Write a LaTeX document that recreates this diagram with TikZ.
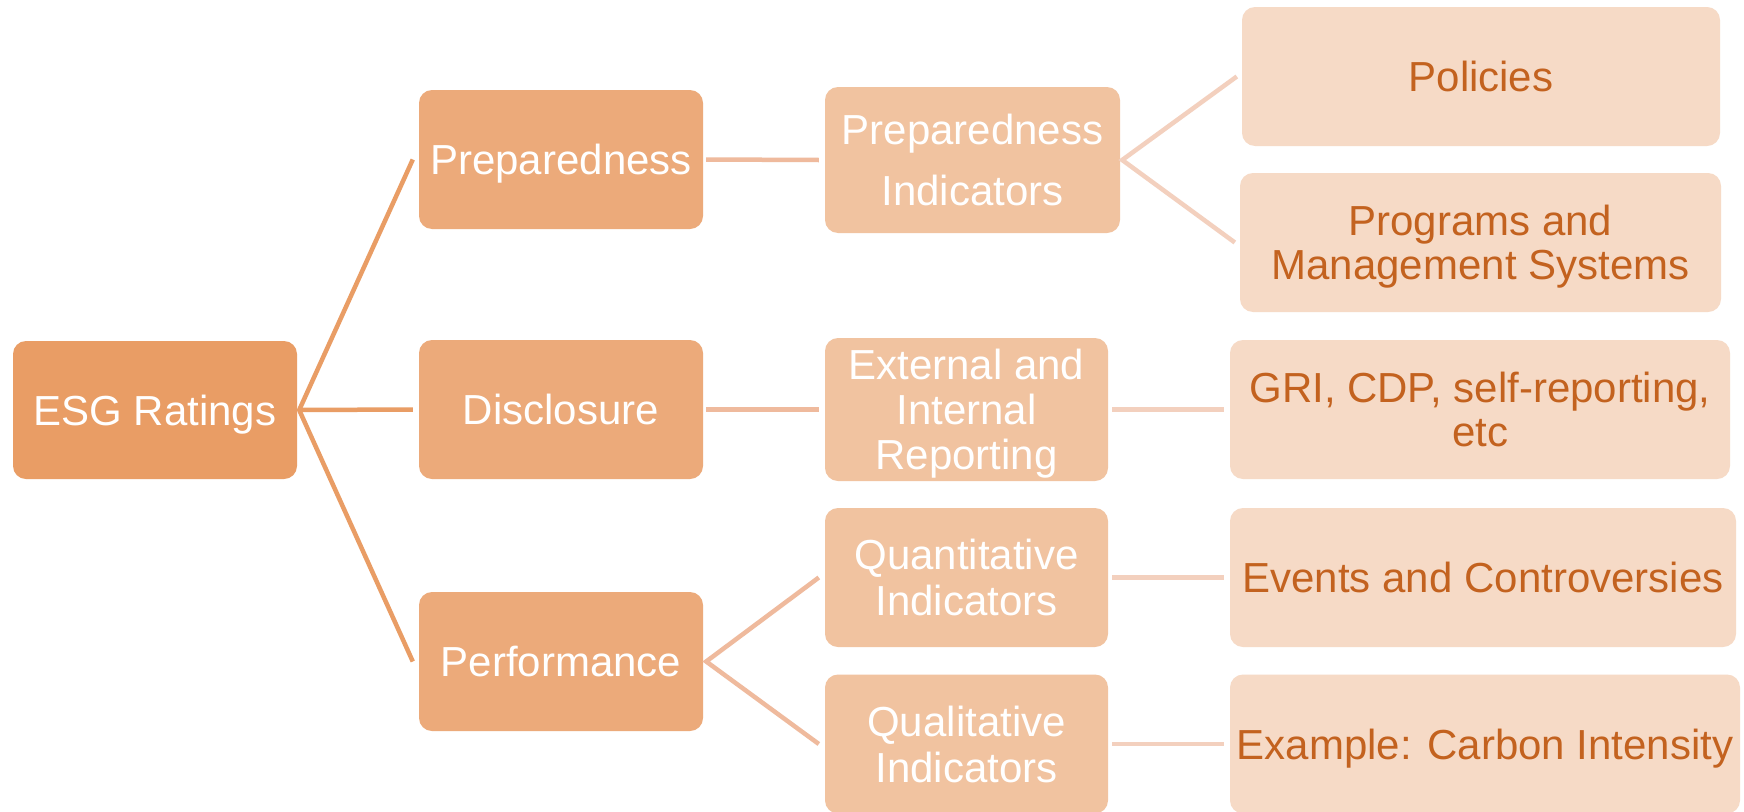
\documentclass[tikz,border=0pt]{standalone}
\usepackage{fontspec}
\setmainfont{Liberation Sans}
\newcommand{\capl}[1]{\raisebox{0pt}[30pt][0pt]{#1}}
\definecolor{c1fill}{HTML}{E99D65}
\definecolor{c2fill}{HTML}{ECAA7A}
\definecolor{c3fill}{HTML}{F1C3A0}
\definecolor{c4fill}{HTML}{F6DAC6}
\definecolor{c4text}{HTML}{C3621F}
\definecolor{l1col}{HTML}{E99D65}
\definecolor{l2col}{HTML}{EFBA9D}
\definecolor{l3col}{HTML}{F3D0BE}
\begin{document}
\begin{tikzpicture}[x=1pt,y=-1pt,
  box/.style={rounded corners=13pt, inner sep=0pt, align=center,
    font=\fontsize{42}{45}\selectfont},
  lvla/.style={box, fill=c1fill, text=white},
  lvlb/.style={box, fill=c2fill, text=white},
  lvlc/.style={box, fill=c3fill, text=white},
  lvld/.style={box, fill=c4fill, text=c4text},
  ca/.style={draw=l1col, line width=4.5pt, line join=miter},
  cb/.style={draw=l2col, line width=4.5pt, line join=miter},
  cc/.style={draw=l3col, line width=4.5pt, line join=miter}]
\useasboundingbox (0,0) rectangle (1744,811);
\fill[white] (0,0) rectangle (1744,811);
% level 1
\node[lvla, minimum width=284pt, minimum height=138pt] (esg) at (155,410) {\capl{ESG Ratings}};
% level 2
\node[lvlb, minimum width=284pt, minimum height=139pt] (prep) at (561,159.5) {\capl{Preparedness}};
\node[lvlb, minimum width=284pt, minimum height=139pt] (disc) at (561,409.5) {\capl{Disclosure}};
\node[lvlb, minimum width=284pt, minimum height=139pt] (perf) at (561,661.5) {\capl{Performance}};
% level 3
\node[lvlc, minimum width=295pt, minimum height=146pt, font=\fontsize{42}{61}\selectfont] (prepind) at (972.5,160) {\capl{Preparedness}\\\capl{Indicators}};
\node[lvlc, minimum width=283pt, minimum height=143pt] (ext) at (966.5,409.5) {\capl{External and}\\\capl{Internal}\\\capl{Reporting}};
\node[lvlc, minimum width=283pt, minimum height=139pt, font=\fontsize{42}{46}\selectfont] (quant) at (966.5,577.5) {\capl{Quantitative}\\\capl{Indicators}};
\node[lvlc, minimum width=283pt, minimum height=139pt, font=\fontsize{42}{46}\selectfont] (qual) at (966.5,744) {\capl{Qualitative}\\\capl{Indicators}};
% level 4
\node[lvld, minimum width=478pt, minimum height=139pt] (pol) at (1481,76.5) {\capl{Policies}};
\node[lvld, minimum width=481pt, minimum height=139pt, font=\fontsize{42}{44}\selectfont] (prog) at (1480.5,242.5) {\capl{Programs and}\\\capl{Management Systems}};
\node[lvld, minimum width=500pt, minimum height=139pt, font=\fontsize{42}{44}\selectfont] (gri) at (1480,409.5) {\capl{GRI, CDP, self-reporting,}\\\capl{etc}};
\node[lvld, minimum width=506pt, minimum height=139pt] (evt) at (1483,577.5) {\capl{Events and Controversies}};
\node[lvld, minimum width=510pt, minimum height=139pt] (exa) at (1485,744) {\capl{Example: Carbon Intensity}};
% connectors level 1 -> 2
\draw[ca] ([xshift=-6pt]prep.west) -- ([xshift=2pt]esg.east) -- ([xshift=-6pt]perf.west);
\draw[ca] ([xshift=2pt]esg.east) -- ([xshift=-6pt]disc.west);
% level 2 -> 3
\draw[cb] ([xshift=3pt]prep.east) -- ([xshift=-6pt]prepind.west);
\draw[cb] ([xshift=3pt]disc.east) -- ([xshift=-6pt]ext.west);
\draw[cb] ([xshift=-6pt]quant.west) -- ([xshift=3pt]perf.east) -- ([xshift=-6pt]qual.west);
% level 3 -> 4
\draw[cc] ([xshift=-5pt]pol.west) -- ([xshift=2pt]prepind.east) -- ([xshift=-5pt]prog.west);
\draw[cc] ([xshift=4pt]ext.east) -- ([xshift=-6pt]gri.west);
\draw[cc] ([xshift=4pt]quant.east) -- ([xshift=-6pt]evt.west);
\draw[cc] ([xshift=4pt]qual.east) -- ([xshift=-6pt]exa.west);
\end{tikzpicture}
\end{document}
